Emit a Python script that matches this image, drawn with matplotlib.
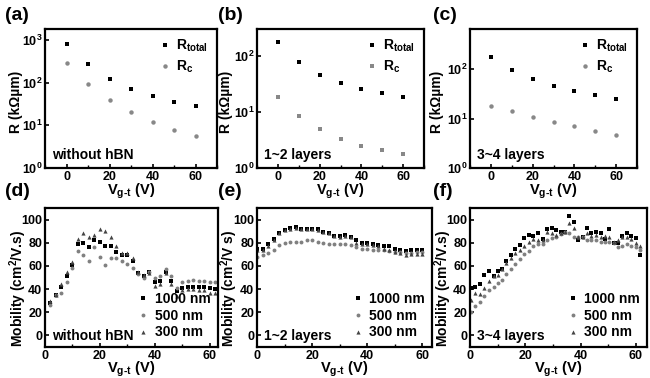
import numpy as np
import matplotlib
matplotlib.use('Agg')
import matplotlib.pyplot as plt
from matplotlib.ticker import MultipleLocator, FixedLocator, NullLocator

plt.rcParams['font.family'] = ['Liberation Sans', 'DejaVu Sans']
plt.rcParams['font.weight'] = 'bold'
plt.rcParams['mathtext.fontset'] = 'custom'
plt.rcParams['mathtext.rm'] = 'Liberation Sans:bold'
plt.rcParams['mathtext.it'] = 'Liberation Sans:bold'
plt.rcParams['mathtext.bf'] = 'Liberation Sans:bold'
plt.rcParams['mathtext.default'] = 'rm'

# ---------- top row: resistance vs gate voltage ----------
vg = [0, 10, 20, 30, 40, 50, 60]
rtot_a = [794, 270, 124, 69, 48, 36, 29]
rc_a = [284, 91, 40, 20, 12, 7.8, 5.5]
rtot_b = [178, 76, 46, 33, 26, 21.6, 18.5]
rc_b = [18.8, 8.5, 4.9, 3.3, 2.5, 2.1, 1.8]
rtot_c = [180, 95, 63, 46, 36, 29.5, 24.6]
rc_c = [17.7, 14.2, 11, 8.7, 7.0, 5.6, 4.7]

# ---------- bottom row: mobility ----------
vd = [2, 4, 6, 8, 10, 12, 14, 16, 18, 20, 22, 24, 26, 28, 30, 32,
      34, 36, 38, 40, 42, 44, 46, 48, 50, 52, 54, 56, 58, 60, 62]
mu_d_1000 = [28, 35, 42, 51, 61, 79, 80, 76, 82, 81, 77, 77, 72, 69, 69, 64,
             54, 51, 55, 46, 47, 55, 47, 38, 41, 42, 42, 42, 42, 41, 40]
mu_d_500 = [26, 35, 37, 46, 58, 73, 69, 64, 76, 68, 61, 67, 67, 64, 62, 58,
            53, 50, 55, 50, 51, 57, 51, 41, 46, 47, 48, 47, 47, 46, 46]
mu_d_300 = [30, 35, 44, 55, 63, 83, 88, 85, 87, 92, 90, 85, 77, 71, 71, 67,
            55, 52, 54, 43, 44, 54, 44, 34, 39, 40, 40, 39, 39, 37, 37]

ve = [0, 2, 4, 6, 8, 10, 12, 14, 16, 18, 20, 22, 24, 26, 28, 30,
      32, 34, 36, 38, 40, 42, 44, 46, 48, 50, 52, 54, 56, 58, 60]
mu_e_1000 = [75, 75, 79, 83, 88, 91, 93, 94, 92, 92, 92, 92, 89, 88, 86, 86,
             87, 85, 82, 80, 80, 79, 78, 77, 77, 75, 74, 73, 74, 74, 74]
mu_e_500 = [68, 69, 71, 74, 78, 80, 81, 81, 81, 82, 82, 81, 80, 79, 79, 79,
            79, 78, 76, 75, 75, 74, 74, 74, 73, 72, 72, 71, 71, 72, 72]
mu_e_300 = [74, 74, 77, 82, 88, 91, 92, 93, 92, 92, 92, 91, 89, 88, 86, 85,
            86, 85, 80, 79, 79, 78, 77, 75, 74, 72, 71, 69, 70, 70, 70]

vf = [0.4, 1.9, 3.5, 5.2, 6.7, 8.5, 10.1, 11.5, 13.1, 14.8, 16.3, 18.1, 19.6,
      21.2, 22.9, 24.7, 26.3, 28, 29.5, 31.1, 32.8, 34.3, 35.9, 37.6, 39.1,
      40.7, 42.4, 43.9, 45.5, 47.2, 48.7, 50.3, 52, 53.5, 55.1, 56.8, 58.3,
      59.9, 61.3]
mu_f_1000 = [41, 42, 44, 52, 56, 51, 56, 57, 64, 69, 75, 78, 84, 87, 86, 88,
             83, 92, 93, 91, 89, 89, 103, 98, 82, 85, 93, 88, 89, 88,
             83, 92, 80, 80, 86, 88, 86, 84, 69]
mu_f_500 = [20.5, 25, 29, 34, 39, 42, 45, 48, 53, 57, 62, 66, 70, 73, 77, 79,
            79, 82, 84, 85, 87.5, 89.5, 88, 85, 85, 84.7, 82, 82, 82, 81,
            81, 81, 79.5, 76, 77, 79, 77, 76, 74]
mu_f_300 = [31, 37, 35.5, 41, 47, 51, 52.5, 57, 62.5, 67, 71, 74, 77, 81, 83, 82,
            82, 89.5, 88, 86.6, 88, 89.5, 97, 93, 85, 85, 88, 86, 86.6, 85,
            86, 85, 81, 82, 85, 84.7, 83, 79.5, 77]

W, H = 650.0, 378.0
fig = plt.figure(figsize=(6.5, 3.78), dpi=100)

def box(l, t, r, b):
    return [l/W, 1-b/H, (r-l)/W, (b-t)/H]

def style(ax):
    for s in ax.spines.values():
        s.set_linewidth(1.6)
    ax.tick_params(direction='in', width=1.2, length=3, labelsize=9, pad=2)
    ax.tick_params(which='minor', direction='in', width=1.0, length=2)
    for lab in ax.get_xticklabels() + ax.get_yticklabels():
        lab.set_fontweight('bold')

top_px = [(45, 29, 217, 168), (257, 29, 424, 168), (470, 29, 637, 168)]
top_data = [(rtot_a, rc_a, 'o', 'without hBN', 1800),
            (rtot_b, rc_b, 's', '1~2 layers', 300),
            (rtot_c, rc_c, 'o', '3~4 layers', 650)]
letters_top = ['(a)', '(b)', '(c)']
letter_x = [5, 218, 433]
ylab_x = [16, 226, 437]

for i in range(3):
    l, t, r, b = top_px[i]
    ax = fig.add_axes(box(l, t, r, b))
    rt, rc, mk, txt, ymax = top_data[i]
    ax.plot(vg, rt, 's', color='black', ms=3.2, mew=0, label='R$_{total}$')
    ax.plot(vg, rc, mk, color='#888888', ms=3.2, mew=0, label='R$_c$')
    ax.set_yscale('log')
    ax.set_ylim(1, ymax)
    ax.set_xlim(-10, 70)
    ax.xaxis.set_major_locator(MultipleLocator(20))
    ax.xaxis.set_minor_locator(MultipleLocator(10))
    decs = [1, 10, 100, 1000] if ymax > 1000 else [1, 10, 100]
    ax.yaxis.set_major_locator(FixedLocator(decs))
    ax.yaxis.set_minor_locator(NullLocator())
    ax.set_yticklabels(['10$^{%d}$' % int(np.log10(d)) for d in decs])
    ax.set_xlabel('V$_{g\u2010t}$ (V)', fontsize=10.5, fontweight='bold')
    ax.set_ylabel('R (k\u03a9\u00b5m)', fontsize=10, fontweight='bold')
    ax.xaxis.set_label_coords(0.5, (b - 182) / (b - t))
    ax.yaxis.set_label_coords((ylab_x[i] - l) / (r - l), (b - 102) / (b - t))
    ax.yaxis.label.set_va('center')
    ax.text(0.04, 0.04, txt, transform=ax.transAxes, fontsize=10, fontweight='bold',
            ha='left', va='bottom')
    ax.legend(loc='upper right', frameon=False, fontsize=10, handletextpad=0.3,
              borderaxespad=0.25, handlelength=1.0, labelspacing=0.3)
    style(ax)
    fig.text(letter_x[i]/W, 1-15/H, letters_top[i], fontsize=14, fontweight='bold',
             ha='left', va='center')

bot_px = [(45, 208, 218, 347), (257, 208, 432, 347), (470, 208, 647, 347)]
bot_data = [(vd, mu_d_1000, mu_d_500, mu_d_300, 'without hBN', 'Mobility (cm$^2$/V.s)', 63),
            (ve, mu_e_1000, mu_e_500, mu_e_300, '1~2 layers', 'Mobility (cm$^2$/V s)', 63.5),
            (vf, mu_f_1000, mu_f_500, mu_f_300, '3~4 layers', 'Mobility (cm$^2$/V.s)', 64)]
letters_bot = ['(d)', '(e)', '(f)']
ylab_xb = [18, 229, 443]

for i in range(3):
    l, t, r, b = bot_px[i]
    ax = fig.add_axes(box(l, t, r, b))
    xx, m1, m2, m3, txt, ylab, xmax = bot_data[i]
    ax.plot(xx, m1, 's', color='black', ms=2.6, mew=0, label='1000 nm')
    ax.plot(xx, m2, 'o', color='#808080', ms=2.8, mew=0, label='500 nm')
    ax.plot(xx, m3, '^', color='#444444', ms=3.0, mew=0, label='300 nm')
    ax.set_xlim(0, xmax)
    ax.set_ylim(-10, 110)
    ax.set_xticks([0, 20, 40, 60])
    ax.set_xticks([10, 30, 50], minor=True)
    ax.set_yticks([0, 20, 40, 60, 80, 100])
    ax.set_xlabel('V$_{g\u2010t}$ (V)', fontsize=10.5, fontweight='bold')
    ax.set_ylabel(ylab, fontsize=10, fontweight='bold')
    ax.xaxis.set_label_coords(0.5, (b - 360) / (b - t))
    ax.yaxis.set_label_coords((ylab_xb[i] - l) / (r - l), (b - 288) / (b - t))
    ax.yaxis.label.set_va('center')
    ax.text(0.04, 0.03, txt, transform=ax.transAxes, fontsize=10, fontweight='bold',
            ha='left', va='bottom')
    ax.legend(loc='lower right', frameon=False, fontsize=10, handletextpad=0.3,
              borderaxespad=0.15, handlelength=1.0, labelspacing=0.2)
    style(ax)
    fig.text(letter_x[i]/W, 1-192/H, letters_bot[i], fontsize=14, fontweight='bold',
             ha='left', va='center')

fig.savefig('out.png', dpi=100)
